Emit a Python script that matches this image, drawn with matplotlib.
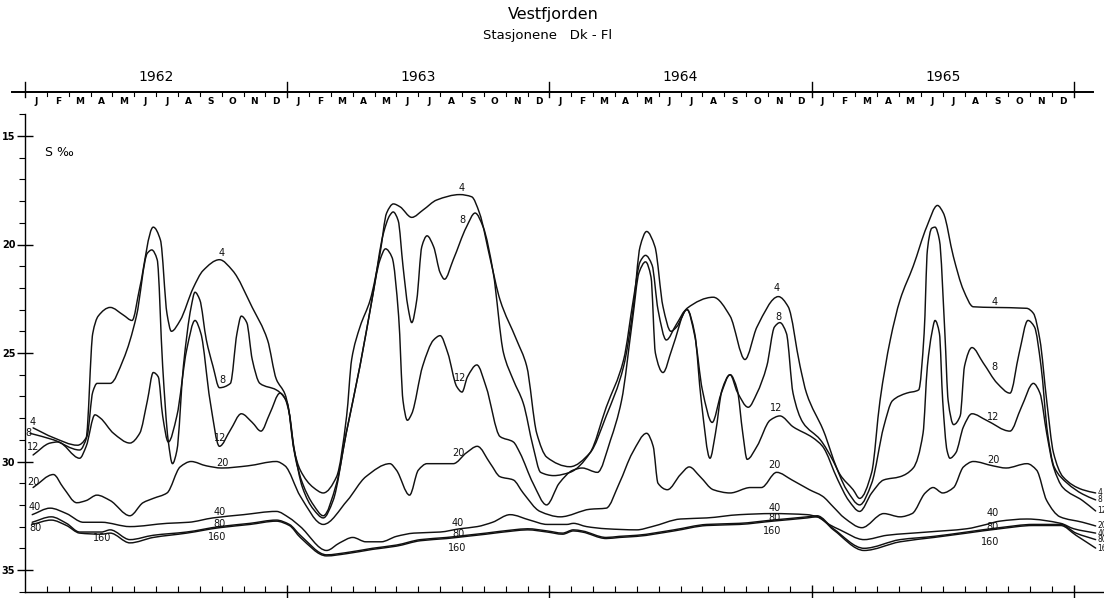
import numpy as np
import matplotlib
matplotlib.use("Agg")
import matplotlib.pyplot as plt
from matplotlib.path import Path
from matplotlib.patches import PathPatch
from matplotlib.transforms import blended_transform_factory

plt.rcParams['font.family'] = ['DejaVu Sans']

# ---------------- data ----------------
title = "Vestfjorden"
subtitle = "Stasjonene   Dk - Fl"
years = ["1962", "1963", "1964", "1965"]
months = ["J", "F", "M", "A", "M", "J", "J", "A", "S", "O", "N", "D"]
y_ticks = [15, 20, 25, 30, 35]
ylabel = "S \u2030"
depths = ["4", "8", "12", "20", "40", "80", "160"]

# time in months since 1 Jan 1962, salinity in per mille
t4 = [0.37, 1.3, 2.4, 2.8, 3.1, 3.35, 3.9, 4.5, 4.9, 5.25, 5.87, 6.2, 6.5, 6.7, 7.1, 7.7, 8.15, 8.9,
      9.5, 10.4, 11.1, 11.5, 11.9, 12.05, 12.3, 12.6, 13.2, 13.65, 14.26, 14.72, 14.95, 15.33, 15.8,
      16.25, 16.55, 16.86, 17.16, 17.7, 18.23, 18.84, 19.9, 20.44, 20.8, 21.3, 21.74, 22.5, 22.96,
      23.42, 23.88, 24.94, 25.86, 26.6, 27.4, 27.84, 28.15, 28.45, 28.83, 29.2, 29.56, 29.82, 30.3,
      31.5, 32.27, 32.95, 33.5, 34.48, 34.93, 35.47, 35.77, 36.53, 37.3, 37.9, 38.2, 38.75, 39.13,
      39.6, 40.05, 40.65, 41.27, 41.76, 42.03, 42.49, 42.95, 43.4, 44.3, 45.84, 46.15, 46.45, 46.76,
      47.07, 47.5, 48.4, 49.0]
s4 = [28.45, 28.9, 29.25, 28.9, 24.1, 23.3, 22.9, 23.25, 23.5, 22.0, 19.2, 19.8, 23.2, 24.0, 23.5,
      22.0, 21.2, 20.7, 21.2, 22.9, 24.4, 26.2, 26.9, 27.5, 29.4, 30.4, 31.2, 31.45, 30.7, 27.9, 25.3,
      23.8, 22.55, 20.4, 18.55, 18.13, 18.26, 18.75, 18.4, 17.95, 17.7, 17.8, 18.55, 20.7, 22.55, 24.4,
      25.6, 28.7, 29.8, 30.24, 29.6, 27.9, 25.6, 22.9, 20.1, 19.4, 20.1, 22.87, 24.0, 23.8, 22.94,
      22.43, 23.3, 25.3, 23.8, 22.4, 22.87, 25.6, 26.86, 28.55, 30.6, 31.3, 31.7, 30.5, 27.2, 24.4,
      22.55, 21.0, 19.18, 18.2, 18.55, 20.56, 22.1, 22.87, 22.9, 22.94, 23.17, 24.4, 27.2, 29.6, 30.7,
      31.3, 31.45]

t8 = [0.23, 1.3, 2.5, 2.85, 3.1, 3.3, 3.9, 4.5, 5.1, 5.6, 5.8, 6.05, 6.3, 6.55, 6.75, 6.95, 7.25,
      7.6, 7.78, 8.0, 8.3, 8.6, 8.9, 9.4, 9.7, 9.9, 10.15, 10.4, 10.75, 11.5, 11.9, 12.1, 12.35, 12.7,
      13.2, 13.65, 14.26, 14.7, 15.33, 15.93, 16.4, 16.7, 16.85, 17.08, 17.3, 17.53, 17.7, 17.93,
      18.16, 18.4, 18.7, 19.0, 19.2, 19.6, 20.2, 20.6, 20.97, 21.43, 21.9, 22.35, 22.8, 23.25, 23.6,
      24.2, 24.94, 25.86, 26.6, 27.4, 27.84, 28.15, 28.4, 28.7, 28.97, 29.35, 29.8, 30.3, 30.65, 31.0,
      31.45, 31.85, 32.27, 32.6, 33.1, 33.5, 33.95, 34.3, 34.55, 34.85, 35.15, 35.6, 36.4, 37.0, 37.6,
      38.2, 38.75, 39.3, 39.7, 40.35, 40.9, 41.15, 41.3, 41.5, 41.65, 41.85, 42.1, 42.25, 42.5, 42.8,
      43.0, 43.34, 43.85, 44.5, 45.08, 45.5, 45.9, 46.2, 46.5, 46.8, 47.1, 47.7, 48.4, 49.0]
s8 = [28.7, 29.0, 29.47, 28.8, 26.8, 26.4, 26.4, 25.3, 23.3, 20.4, 20.25, 20.7, 25.6, 29.0, 30.1,
      29.5, 25.6, 22.9, 22.2, 22.55, 24.4, 25.6, 26.6, 26.4, 24.1, 23.3, 23.6, 25.3, 26.4, 26.7, 27.1,
      27.8, 29.7, 31.0, 32.0, 32.5, 31.0, 28.7, 25.6, 22.25, 19.5, 18.65, 18.5, 18.9, 21.0, 22.9, 23.6,
      22.55, 20.1, 19.6, 20.1, 21.3, 21.6, 20.7, 19.2, 18.55, 19.2, 21.3, 25.0, 26.25, 27.3, 29.3,
      30.5, 30.65, 30.5, 29.6, 27.5, 25.3, 22.55, 20.8, 20.5, 20.95, 23.0, 24.4, 23.7, 23.0, 24.2,
      26.7, 28.2, 26.9, 26.0, 26.8, 27.5, 26.85, 25.6, 23.8, 23.6, 24.1, 26.85, 28.2, 29.0, 30.0, 31.3,
      32.0, 31.0, 28.4, 27.2, 26.85, 26.7, 24.1, 20.25, 19.25, 19.2, 19.8, 24.1, 27.2, 28.3, 27.9,
      25.6, 24.75, 25.45, 26.4, 26.85, 25.0, 23.5, 23.8, 25.6, 28.7, 30.25, 31.0, 31.5, 31.77]

t12 = [0.37, 1.15, 1.5, 2.5, 2.8, 3.2, 3.45, 4.05, 4.8, 5.25, 5.6, 5.87, 6.1, 6.3, 6.56, 6.95, 7.4,
       7.78, 8.05, 8.47, 8.9, 9.4, 9.9, 10.4, 10.8, 11.2, 11.67, 12.0, 12.3, 12.7, 13.2, 13.65, 14.1,
       14.7, 15.33, 15.8, 16.25, 16.5, 16.8, 17.1, 17.3, 17.5, 17.7, 18.2, 18.7, 19.0, 19.35, 19.76,
       20.0, 20.25, 20.68, 21.1, 21.74, 22.35, 22.65, 23.25, 23.87, 24.45, 25.08, 25.5, 26.2, 26.8,
       27.3, 27.8, 28.1, 28.4, 28.65, 28.85, 29.2, 29.6, 30.3, 30.65, 30.95, 31.35, 31.6, 31.9, 32.27,
       32.6, 32.85, 33.05, 33.5, 34.1, 34.55, 35.15, 36.05, 36.5, 37.2, 37.7, 38.2, 38.75, 39.3, 40.05,
       40.65, 41.1, 41.3, 41.5, 41.65, 41.85, 42.0, 42.2, 42.33, 42.6, 42.95, 43.34, 44.0, 45.08, 45.6,
       46.15, 46.45, 46.76, 47.07, 47.5, 48.4, 49.0]
s12 = [29.7, 29.15, 29.1, 29.85, 29.3, 27.85, 28.0, 28.7, 29.15, 28.7, 27.2, 25.9, 26.1, 27.9, 29.1,
       27.9, 24.85, 23.5, 24.1, 27.2, 29.3, 28.55, 27.8, 28.2, 28.6, 27.8, 26.85, 27.3, 29.3, 31.2,
       32.2, 32.6, 31.8, 28.7, 25.6, 23.0, 20.7, 20.2, 20.6, 23.3, 27.2, 28.1, 27.8, 25.6, 24.4, 24.2,
       25.0, 26.55, 26.8, 26.1, 25.55, 26.55, 28.85, 29.1, 29.6, 31.0, 32.0, 31.0, 30.4, 30.3, 30.5,
       29.0, 27.2, 23.5, 21.3, 20.8, 21.5, 25.0, 25.9, 24.85, 23.0, 24.1, 27.2, 29.85, 28.7, 26.7, 26.0,
       26.7, 28.7, 29.9, 29.3, 28.1, 27.9, 28.4, 28.9, 29.3, 30.85, 31.8, 32.3, 31.45, 30.85, 30.7,
       30.3, 28.7, 25.6, 24.1, 23.5, 24.1, 27.2, 29.5, 29.85, 29.6, 28.4, 27.8, 28.1, 28.6, 27.5, 26.4,
       26.85, 28.7, 30.25, 31.2, 31.8, 32.28]

t20 = [0.37, 1.3, 1.75, 2.37, 2.8, 3.29, 3.9, 4.8, 5.4, 5.87, 6.5, 7.1, 7.6, 8.3, 9.0, 10.2, 11.5,
       11.9, 12.6, 13.65, 14.75, 15.6, 16.7, 17.0, 17.6, 18.0, 18.4, 19.6, 20.2, 20.7, 21.3, 21.74,
       22.35, 22.8, 23.57, 24.5, 25.86, 26.6, 27.2, 27.8, 28.45, 28.75, 28.97, 29.4, 30.0, 30.4, 30.9,
       31.5, 32.27, 33.2, 33.7, 34.4, 35.1, 35.9, 36.5, 37.0, 37.5, 38.3, 39.3, 40.05, 40.6, 41.2,
       41.56, 42.0, 42.5, 42.95, 43.4, 44.3, 44.9, 45.86, 46.3, 46.76, 47.37, 48.4, 49.0]
s20 = [31.2, 30.6, 31.2, 31.9, 31.8, 31.55, 31.8, 32.5, 31.9, 31.7, 31.45, 30.25, 30.0, 30.2, 30.3,
       30.2, 30.0, 30.2, 31.6, 32.9, 31.8, 30.7, 30.1, 30.4, 31.55, 30.4, 30.1, 30.1, 29.6, 29.3, 30.1,
       30.7, 30.85, 31.45, 32.3, 32.55, 32.2, 32.15, 31.0, 29.6, 28.7, 29.3, 31.0, 31.3, 30.6, 30.25,
       30.7, 31.3, 31.45, 31.2, 31.2, 30.5, 30.85, 31.3, 31.6, 32.1, 32.6, 33.05, 32.4, 32.55, 32.4,
       31.45, 31.2, 31.45, 31.2, 30.25, 30.0, 30.2, 30.3, 30.1, 30.4, 31.8, 32.55, 32.8, 32.97]

t40 = [0.33, 1.15, 1.9, 2.67, 3.5, 4.8, 6.5, 7.5, 8.6, 10.0, 11.5, 12.1, 12.6, 13.8, 14.4, 15.0,
       15.6, 16.3, 17.0, 17.8, 19.0, 19.9, 20.7, 21.4, 22.2, 23.1, 23.9, 24.8, 25.1, 25.7, 26.6, 28.0,
       28.7, 30.0, 31.2, 32.7, 34.2, 35.8, 36.25, 36.8, 37.3, 38.4, 39.45, 41.3, 43.1, 44.0, 44.6,
       45.85, 47.4, 48.0, 49.0]
s40 = [32.45, 32.15, 32.4, 32.8, 32.8, 33.0, 32.85, 32.8, 32.6, 32.45, 32.3, 32.6, 33.0, 34.1, 33.75,
       33.5, 33.7, 33.7, 33.45, 33.3, 33.25, 33.1, 33.0, 32.8, 32.45, 32.7, 32.9, 32.9, 32.85, 33.0,
       33.1, 33.15, 33.0, 32.65, 32.6, 32.45, 32.4, 32.45, 32.55, 32.9, 33.15, 33.6, 33.4, 33.25, 33.1,
       32.9, 32.75, 32.65, 32.85, 33.1, 33.3]

t80 = [0.33, 1.2, 1.9, 2.5, 3.5, 3.9, 4.8, 5.87, 7.4, 8.9, 10.3, 11.5, 12.1, 12.6, 13.8, 14.7, 15.9,
       17.0, 18.1, 19.3, 20.2, 21.1, 22.35, 23.0, 23.9, 24.6, 25.1, 25.5, 26.6, 27.2, 28.0, 29.7, 31.2,
       32.7, 34.2, 35.8, 36.25, 37.0, 38.4, 40.05, 41.6, 43.1, 44.6, 46.15, 47.4, 48.1, 49.0]
s80 = [32.8, 32.55, 32.85, 33.25, 33.25, 33.15, 33.6, 33.4, 33.25, 33.0, 32.85, 32.7, 32.9, 33.4,
       34.3, 34.2, 34.0, 33.85, 33.6, 33.5, 33.4, 33.3, 33.15, 33.1, 33.2, 33.3, 33.15, 33.2, 33.5,
       33.45, 33.4, 33.15, 32.9, 32.85, 32.7, 32.55, 32.5, 33.1, 34.0, 33.6, 33.45, 33.25, 33.05, 32.9,
       32.9, 33.3, 33.6]

t160 = [0.33, 1.2, 1.9, 2.5, 3.5, 3.9, 4.8, 5.87, 7.4, 8.9, 10.3, 11.5, 12.1, 12.6, 13.8, 14.7, 15.9,
        17.0, 18.1, 19.3, 20.2, 21.1, 22.35, 23.0, 23.9, 24.6, 25.1, 25.5, 26.6, 27.2, 28.0, 29.7,
        31.2, 32.7, 34.2, 35.8, 36.25, 37.0, 38.4, 40.05, 41.6, 43.1, 44.6, 46.15, 47.4, 48.1, 49.0]
s160 = [32.9, 32.7, 32.95, 33.3, 33.35, 33.3, 33.75, 33.5, 33.3, 33.05, 32.9, 32.75, 32.95, 33.5,
        34.35, 34.25, 34.05, 33.9, 33.65, 33.55, 33.45, 33.35, 33.2, 33.15, 33.25, 33.35, 33.2, 33.25,
        33.55, 33.5, 33.45, 33.2, 32.95, 32.9, 32.75, 32.6, 32.55, 33.15, 34.1, 33.7, 33.5, 33.3, 33.1,
        32.95, 32.95, 33.4, 33.99]

series = {"4": (t4, s4), "8": (t8, s8), "12": (t12, s12), "20": (t20, s20),
          "40": (t40, s40), "80": (t80, s80), "160": (t160, s160)}

# depth label placements (month, salinity)
label_spots = [
    ("4", 0.37, 28.2), ("8", 0.14, 28.7), ("12", 0.37, 29.33), ("20", 0.37, 30.95),
    ("40", 0.46, 32.1), ("80", 0.46, 33.06),
    ("4", 9.02, 20.39), ("8", 9.02, 26.24), ("12", 8.92, 28.92), ("20", 9.02, 30.07),
    ("40", 8.92, 32.33), ("80", 8.92, 32.88), ("160", 8.79, 33.48), ("160", 3.52, 33.53),
    ("4", 20.0, 17.4), ("8", 20.0, 18.87), ("12", 19.91, 26.15), ("20", 19.82, 29.61),
    ("40", 19.82, 32.83), ("80", 19.82, 33.34), ("160", 19.77, 33.99),
    ("4", 34.42, 22.0), ("8", 34.46, 23.34), ("12", 34.37, 27.53), ("20", 34.28, 30.16),
    ("40", 34.32, 32.14), ("80", 34.32, 32.6), ("160", 34.19, 33.2),
    ("4", 44.39, 22.65), ("8", 44.39, 25.65), ("12", 44.3, 27.95), ("20", 44.3, 29.93),
    ("40", 44.3, 32.37), ("80", 44.3, 33.02), ("160", 44.16, 33.71),
]
end_labels = [("4", 31.45), ("8", 31.77), ("12", 32.28), ("20", 32.97),
              ("40", 33.3), ("80", 33.6), ("160", 33.99)]


def smooth_path(x, y):
    """Shape-preserving cubic Bezier path through the given points."""
    x = np.asarray(x, float)
    y = np.asarray(y, float)
    h = np.diff(x)
    d = np.diff(y) / h
    n = len(x)
    m = np.zeros(n)
    for i in range(1, n - 1):
        if d[i - 1] * d[i] <= 0:
            m[i] = 0.0
        else:
            w1 = 2 * h[i] + h[i - 1]
            w2 = h[i] + 2 * h[i - 1]
            m[i] = (w1 + w2) / (w1 / d[i - 1] + w2 / d[i])
    m[0] = d[0]
    m[-1] = d[-1]
    verts = [(x[0], y[0])]
    codes = [Path.MOVETO]
    for i in range(n - 1):
        verts += [(x[i] + h[i] / 3, y[i] + m[i] * h[i] / 3),
                  (x[i + 1] - h[i] / 3, y[i + 1] - m[i + 1] * h[i] / 3),
                  (x[i + 1], y[i + 1])]
        codes += [Path.CURVE4] * 3
    return Path(verts, codes)


# ---------------- figure ----------------
W, H = 1104, 598
fig = plt.figure(figsize=(W / 100, H / 100), dpi=100)
ax_left, ax_right, ax_top, ax_bot = 25, 1104, 114, 592
ax = fig.add_axes([ax_left / W, (H - ax_bot) / H, (ax_right - ax_left) / W, (ax_bot - ax_top) / H])

px_per_month = 21.85
px_per_unit = 21.7
y15 = 136
ax.set_xlim(0, (ax_right - ax_left) / px_per_month)
ax.set_ylim(15 + (ax_bot - y15) / px_per_unit, 15 + (ax_top - y15) / px_per_unit)

for key, (t, s) in series.items():
    ax.add_patch(PathPatch(smooth_path(t, s), fill=False, lw=1.05, ec='#111111',
                           joinstyle='round', capstyle='round'))

for txt, xm, ys in label_spots:
    ax.text(xm, ys, txt, fontsize=7, ha='center', va='center', color='#111111')
for txt, ys in end_labels:
    ax.text(49.08, ys, txt, fontsize=5.5, ha='left', va='center', color='#111111', clip_on=False)

ax.text(0.9, 15.75, ylabel, fontsize=9, ha='left', va='center')

# spines / ticks
for sp in ['top', 'right']:
    ax.spines[sp].set_visible(False)
for sp in ['left', 'bottom']:
    ax.spines[sp].set_linewidth(1.0)

ax.set_yticks(y_ticks)
ax.set_yticklabels([str(v) for v in y_ticks], fontsize=7, fontweight='bold')
ax.set_yticks(np.arange(14, 37), minor=True)
ax.tick_params(axis='y', which='major', direction='inout', length=12, width=1.0, pad=1)
ax.tick_params(axis='y', which='minor', direction='out', length=4, width=0.8)

ax.set_xticks([12, 24, 36, 48])
ax.set_xticks(np.arange(1, 49), minor=True)
ax.tick_params(axis='x', which='major', direction='inout', length=10, width=1.0, labelbottom=False)
ax.tick_params(axis='x', which='minor', direction='in', length=4, width=0.8, labelbottom=False)

# top calendar ruler
trans = blended_transform_factory(ax.transData, ax.transAxes)


def fy(py):
    return (ax_bot - py) / (ax_bot - ax_top)


ax.plot([-0.6, 48.88], [fy(92), fy(92)], transform=trans, clip_on=False, lw=1.4, color='k')
for k in range(5):
    ax.plot([12 * k, 12 * k], [fy(82), fy(97)], transform=trans, clip_on=False, lw=1.0, color='k')
for mi in range(48):
    if mi % 12 != 0:
        ax.plot([mi, mi], [fy(92), fy(96)], transform=trans, clip_on=False, lw=0.8, color='k')
    ax.text(mi + 0.5, fy(102), months[mi % 12], transform=trans, fontsize=6.5, fontweight='bold',
            ha='center', va='center')
for k, yr in enumerate(years):
    ax.text(12 * k + 6, fy(77), yr, transform=trans, fontsize=10, ha='center', va='center')

fig.text(553 / W, 1 - 15 / H, title, fontsize=11.5, ha='center', va='center')
fig.text(548 / W, 1 - 35 / H, subtitle, fontsize=9.5, ha='center', va='center')

fig.savefig("out.png", dpi=100)
